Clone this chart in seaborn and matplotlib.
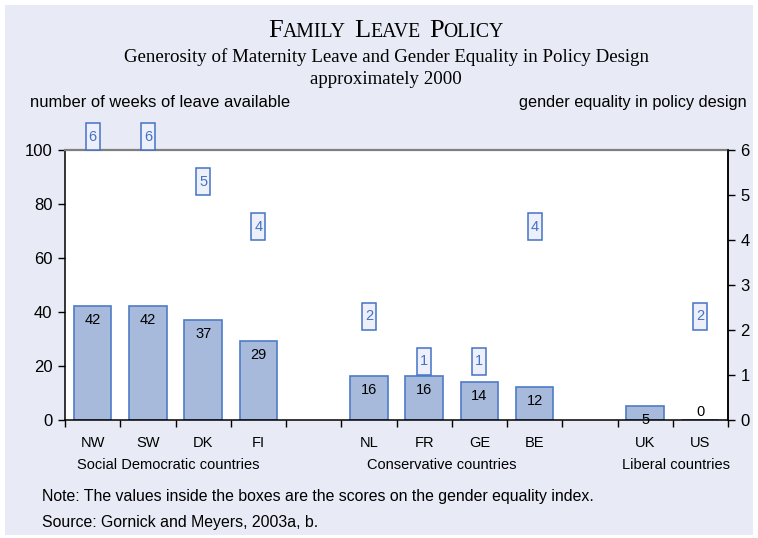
import numpy as np
import pandas as pd
import matplotlib
matplotlib.use("Agg")
import matplotlib.pyplot as plt
import seaborn as sns
from matplotlib.path import Path
from matplotlib.patches import Rectangle
from matplotlib.transforms import blended_transform_factory
from matplotlib.offsetbox import TextArea, HPacker, AnnotationBbox
from matplotlib.ticker import MultipleLocator

# data
countries = ["NW", "SW", "DK", "FI", "NL", "FR", "GE", "BE", "UK", "US"]
weeks = [42, 42, 37, 29, 16, 16, 14, 12, 5, 0]
equality_score = [6, 6, 5, 4, 2, 1, 1, 4, None, 2]
slot_order = ["NW", "SW", "DK", "FI", "_a", "NL", "FR", "GE", "BE", "_b", "UK", "US"]
groups = ["Social Democratic countries", "Conservative countries", "Liberal countries"]
group_pos = [1.36, 6.31, 10.56]

BG = "#e8eaf5"
BAR = "#a7badb"
BAR_EDGE = "#4f7bc6"
BOX_TXT = "#4472c4"
BOX_FACE = "#edf0fa"

sns.set_style("ticks")
plt.rcParams["font.family"] = ["Liberation Sans", "DejaVu Sans"]
plt.rcParams["text.color"] = "black"
plt.rcParams["xtick.color"] = "black"
plt.rcParams["ytick.color"] = "black"

df = pd.DataFrame({"country": countries, "weeks": weeks})

fig = plt.figure(figsize=(7.58, 5.38), dpi=100, facecolor="white")
fig.patches.append(Rectangle((5 / 758, 3 / 538), 748 / 758, 530 / 538,
                             transform=fig.transFigure, facecolor=BG,
                             edgecolor="none", zorder=-10))
ax = fig.add_axes([65 / 758, 1 - 419.5 / 538, 663 / 758, 269.5 / 538])
ax.set_facecolor("white")

sns.barplot(data=df, x="country", y="weeks", order=slot_order, ax=ax,
            color=BAR, edgecolor=BAR_EDGE, linewidth=1.2, width=0.68,
            saturation=1, errorbar=None)

ax.set_xlim(-0.5, len(slot_order) - 0.5)
ax.set_ylim(0, 100)
ax.yaxis.set_major_locator(MultipleLocator(20))
ax.set_xlabel("")
ax.set_ylabel("")

# country labels at slot centres, tick marks between slots
ax.set_xticks(range(len(slot_order)))
ax.set_xticklabels([c if not c.startswith("_") else "" for c in slot_order], fontsize=10.5)
ax.set_xticks(np.arange(-0.5, len(slot_order)), minor=True)
ax.tick_params(axis="x", which="major", length=0, pad=12)
ax.tick_params(axis="x", which="minor", length=5, direction="out", width=1, color="black")
ax.tick_params(axis="y", length=5, direction="out", width=1, labelsize=12, color="black", pad=4)

for s in ["left", "bottom", "right"]:
    ax.spines[s].set_color("black")
    ax.spines[s].set_linewidth(1.1)
ax.spines["top"].set_visible(True)
ax.spines["top"].set_color("#7f7f7f")
ax.spines["top"].set_linewidth(1.6)

# weeks labels inside bars
for c, w in zip(countries, weeks):
    xi = slot_order.index(c)
    if w > 0:
        ax.annotate(str(w), (xi, w), xytext=(0, -5), textcoords="offset points",
                    ha="center", va="top", fontsize=10.5, color="black")
    else:
        ax.annotate(str(w), (xi, w), xytext=(0, 0), textcoords="offset points",
                    ha="center", va="bottom", fontsize=10.5, color="black")

# right axis: gender equality score
ax2 = ax.twinx()
ax2.set_ylim(0, 6)
ax2.yaxis.set_major_locator(MultipleLocator(1))
ax2.tick_params(axis="y", length=5, direction="out", width=1, labelsize=12, color="black", pad=4)
for s in ax2.spines.values():
    s.set_visible(False)
ax2.spines["right"].set_visible(True)
ax2.spines["right"].set_color("black")
ax2.spines["right"].set_linewidth(1.1)


def tall_box(x0, y0, width, height, mutation_size):
    px = 0.2 * mutation_size
    py = 0.45 * mutation_size
    x0, x1 = x0 - px, x0 + width + px
    y0, y1 = y0 - py, y0 + height + py
    return Path([(x0, y0), (x1, y0), (x1, y1), (x0, y1), (x0, y0)], closed=True)


for c, sc in zip(countries, equality_score):
    if sc is None:
        continue
    xi = slot_order.index(c)
    ax2.annotate(str(sc), (xi, sc), xytext=(0, 4.5), textcoords="offset points",
                 ha="center", va="bottom", fontsize=10.5, color=BOX_TXT,
                 annotation_clip=False, zorder=5,
                 bbox=dict(boxstyle=tall_box, facecolor=BOX_FACE,
                           edgecolor=BOX_TXT, linewidth=1.1))

# group labels under the countries
tr = blended_transform_factory(ax.transData, fig.transFigure)
for g, gx in zip(groups, group_pos):
    ax.text(gx, 1 - 465 / 538, g, transform=tr, ha="center", va="center", fontsize=10.5)

# title in small caps
serif = "Liberation Serif"
big = dict(fontsize=19, family=serif, color="black")
small = dict(fontsize=14.2, family=serif, color="black")
words = []
for w in ["FAMILY", "LEAVE", "POLICY"]:
    words.append(HPacker(children=[TextArea(w[0], textprops=big),
                                   TextArea(w[1:], textprops=small)],
                         align="baseline", pad=0, sep=0))
title_box = HPacker(children=words, align="baseline", pad=0, sep=6)
ab = AnnotationBbox(title_box, (386 / 758, 1 - 31 / 538), xycoords="figure fraction",
                    box_alignment=(0.5, 0.5), frameon=False, annotation_clip=False)
fig.add_artist(ab)

fig.text(386 / 758, 1 - 57 / 538,
         "Generosity of Maternity Leave and Gender Equality in Policy Design",
         ha="center", va="center", family=serif, fontsize=13.6)
fig.text(386 / 758, 1 - 80 / 538, "approximately 2000",
         ha="center", va="center", family=serif, fontsize=13.6)
fig.text(30 / 758, 1 - 102 / 538, "number of weeks of leave available",
         ha="left", va="center", fontsize=11.9)
fig.text(747 / 758, 1 - 102 / 538, "gender equality in policy design",
         ha="right", va="center", fontsize=11.7)
fig.text(42 / 758, 1 - 497 / 538,
         "Note: The values inside the boxes are the scores on the gender equality index.",
         ha="left", va="center", fontsize=11.4)
fig.text(42 / 758, 1 - 523 / 538, "Source: Gornick and Meyers, 2003a, b.",
         ha="left", va="center", fontsize=11.4)

fig.savefig("out.png", dpi=100, facecolor="white")
